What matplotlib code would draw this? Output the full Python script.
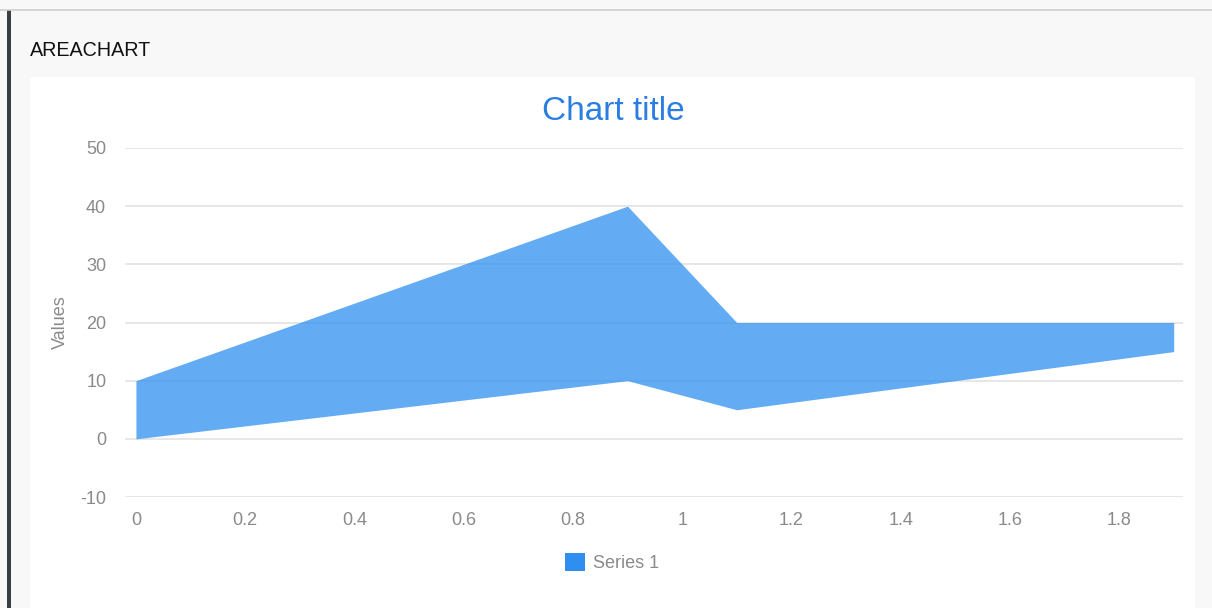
import matplotlib.pyplot as plt
from matplotlib.patches import Rectangle
from matplotlib.lines import Line2D

# data
x_vals = [0, 0.9, 1.1, 1.9]
low_vals = [0, 10, 5, 15]
high_vals = [10, 40, 20, 20]
series_name = "Series 1"
y_ticks = [-10, 0, 10, 20, 30, 40, 50]
y_tick_labels = ["-10", "0", "10", "20", "30", "40", "50"]
x_ticks = [0, 0.2, 0.4, 0.6, 0.8, 1, 1.2, 1.4, 1.6, 1.8]
x_tick_labels = ["0", "0.2", "0.4", "0.6", "0.8", "1", "1.2", "1.4", "1.6", "1.8"]

plt.rcParams['font.family'] = ['Liberation Sans', 'DejaVu Sans']

W, H = 1212, 608
fig = plt.figure(figsize=(W / 100, H / 100), dpi=100)
fig.patch.set_facecolor('#f8f8f8')

# page decorations: top rule, left dark bar, white card
fig.add_artist(Line2D([0, 1], [1 - 9.5 / H, 1 - 9.5 / H], color='#cfcfcf', lw=1.2))
fig.add_artist(Rectangle((7 / W, 0), 4 / W, 1 - 10 / H, color='#3a3f44', lw=0))
fig.add_artist(Rectangle((30 / W, 0), (1195 - 30) / W, (H - 77) / H,
                         facecolor='white', edgecolor='none', zorder=0))
fig.text(30 / W, 1 - 50 / H, "AREACHART", fontsize=14.2, color='#111111',
         va='center', ha='left')

ax = fig.add_axes([125 / W, (H - 497) / H, (1183 - 125) / W, (497 - 148) / H])
ax.set_facecolor('none')

ax.fill_between(x_vals, low_vals, high_vals, color='#2f8ff0', alpha=0.75,
                lw=0, label=series_name)

ax.set_xlim(-0.02, 1.917)
ax.set_ylim(-10, 50)
ax.set_yticks(y_ticks)
ax.set_yticklabels(y_tick_labels, va='center_baseline')
ax.set_xticks(x_ticks)
ax.set_xticklabels(x_tick_labels)
ax.grid(axis='y', color='#e3e3e3', lw=1.2)
ax.set_axisbelow(True)
for s in ax.spines.values():
    s.set_visible(False)
ax.tick_params(length=0, labelsize=13, labelcolor='#8a8a8a')
ax.tick_params(axis='y', pad=13.5)
ax.tick_params(axis='x', pad=10.5)
ax.set_ylabel("Values", fontsize=13, color='#8a8a8a', labelpad=8)

fig.text(613 / W, 1 - 111 / H, "Chart title", fontsize=24, color='#2a7de1',
         ha='center', va='center')

# legend
fig.add_artist(Rectangle((565 / W, 1 - 571 / H), 20 / W, 18 / H,
                         color='#2f8ff0', lw=0))
fig.text(593 / W, 1 - 563 / H, series_name, fontsize=13, color='#8a8a8a',
         va='center', ha='left')

fig.savefig("out.png", dpi=100, facecolor=fig.get_facecolor())
